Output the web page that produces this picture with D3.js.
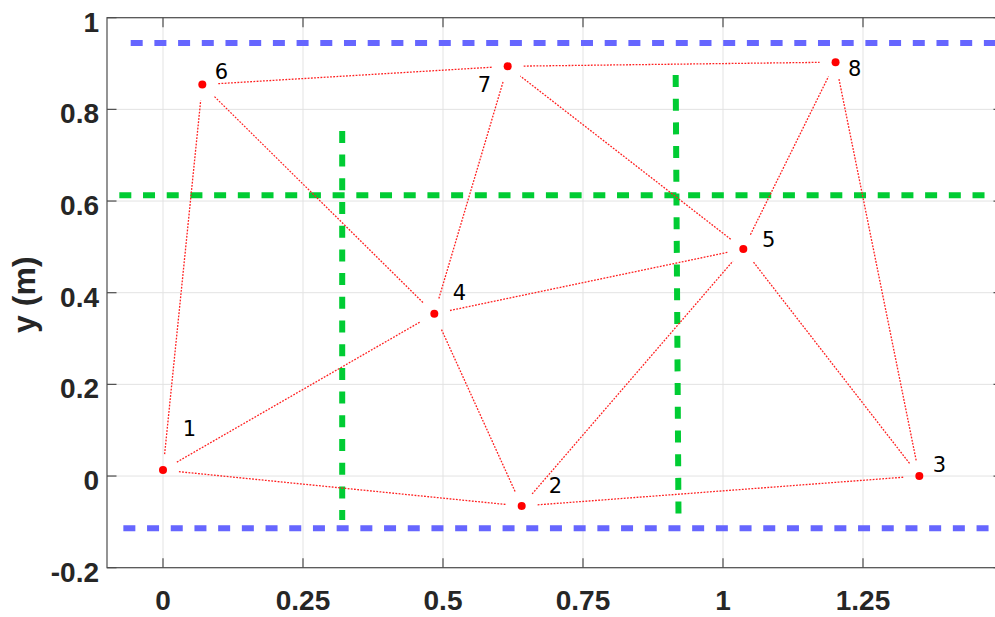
<!DOCTYPE html>
<html>
<head>
<meta charset="utf-8">
<script src="https://cdn.jsdelivr.net/npm/d3@7"></script>
<style>
  html, body { margin: 0; padding: 0; background: #fff; }
  svg { display: block; }
</style>
</head>
<body>
<svg id="chart" width="995" height="617"></svg>
<script>
// ---- data ----
const nodeIds = [1, 2, 3, 4, 5, 6, 7, 8];
const nodeX = [0, 0.6405, 1.3506, 0.4845, 1.0363, 0.0702, 0.6155, 1.201];
const nodeY = [0.013, -0.0655, 0, 0.354, 0.4953, 0.854, 0.894, 0.903];
const labelX = [0.0352, 0.6888, 1.3745, 0.5173, 1.0696, 0.0923, 0.562, 1.2232];
const labelY = [0.0879, -0.0377, 0.0087, 0.384, 0.5003, 0.8656, 0.8385, 0.8729];
const edgeFrom = [1, 1, 1, 2, 2, 2, 3, 3, 4, 4, 4, 5, 5, 6, 7];
const edgeTo   = [2, 4, 6, 4, 5, 3, 5, 8, 5, 6, 7, 7, 8, 7, 8];

const blueY  = [0.9448, -0.114];
const blueX0 = [-0.0577, -0.0708];
const greenHY  = [0.6125];
const greenHX0 = [-0.078];
const greenVX0 = [0.320, 0.9155];
const greenVX1 = [0.320, 0.9205];
const greenVTop = [0.753, 0.875];
const greenVBot = [-0.096, -0.0837];

const xTicks = [0, 0.25, 0.5, 0.75, 1, 1.25];
const xTickLabels = ["0", "0.25", "0.5", "0.75", "1", "1.25"];
const yTicks = [-0.2, 0, 0.2, 0.4, 0.6, 0.8, 1];
const yTickLabels = ["-0.2", "0", "0.2", "0.4", "0.6", "0.8", "1"];
const xDomain = [-0.1, 1.5];
const yDomain = [-0.2, 1];
const yLabel = "y (m)";

// ---- layout ----
const svg = d3.select("#chart");
const x = d3.scaleLinear().domain(xDomain).range([107, 1003]);
const y = d3.scaleLinear().domain(yDomain).range([567.7, 17.7]);
const [L, R] = x.range();
const [B, T] = y.range();

// grid
const grid = svg.append("g").attr("stroke", "#e3e3e3").attr("stroke-width", 1);
grid.selectAll("line.gx").data(xTicks).join("line")
  .attr("x1", d => x(d)).attr("x2", d => x(d)).attr("y1", T).attr("y2", B);
grid.selectAll("line.gy").data(yTicks).join("line")
  .attr("x1", L).attr("x2", R).attr("y1", d => y(d)).attr("y2", d => y(d));

// guide lines
const dash = "12,11.7";
svg.append("g").selectAll("line").data(blueY).join("line")
  .attr("x1", (d, i) => x(blueX0[i])).attr("x2", x(1.6))
  .attr("y1", d => y(d)).attr("y2", d => y(d))
  .attr("stroke", "#6666ff").attr("stroke-width", 6).attr("stroke-dasharray", dash);
svg.append("g").selectAll("line").data(greenHY).join("line")
  .attr("x1", (d, i) => x(greenHX0[i])).attr("x2", x(1.6))
  .attr("y1", d => y(d)).attr("y2", d => y(d))
  .attr("stroke", "#00cc33").attr("stroke-width", 6).attr("stroke-dasharray", dash);
svg.append("g").selectAll("line").data(greenVX0).join("line")
  .attr("x1", (d, i) => x(greenVX0[i])).attr("x2", (d, i) => x(greenVX1[i]))
  .attr("y1", (d, i) => y(greenVTop[i])).attr("y2", (d, i) => y(greenVBot[i]))
  .attr("stroke", "#00cc33").attr("stroke-width", 6).attr("stroke-dasharray", dash);

// edges (shortened at both ends)
const gap = 16;
const edges = edgeFrom.map((a, i) => {
  const b = edgeTo[i];
  const x1 = x(nodeX[a - 1]), y1 = y(nodeY[a - 1]);
  const x2 = x(nodeX[b - 1]), y2 = y(nodeY[b - 1]);
  const len = Math.hypot(x2 - x1, y2 - y1);
  const ux = (x2 - x1) / len, uy = (y2 - y1) / len;
  return { x1: x1 + ux * gap, y1: y1 + uy * gap, x2: x2 - ux * gap, y2: y2 - uy * gap };
});
svg.append("g").selectAll("line").data(edges).join("line")
  .attr("x1", d => d.x1).attr("y1", d => d.y1).attr("x2", d => d.x2).attr("y2", d => d.y2)
  .attr("stroke", "#ff2020").attr("stroke-width", 1.3).attr("stroke-dasharray", "1.8,1.4");

// nodes
svg.append("g").selectAll("circle").data(nodeIds).join("circle")
  .attr("cx", (d, i) => x(nodeX[i])).attr("cy", (d, i) => y(nodeY[i]))
  .attr("r", 4).attr("fill", "#ff0000");

// node labels
svg.append("g").selectAll("text").data(nodeIds).join("text")
  .attr("x", (d, i) => x(labelX[i])).attr("y", (d, i) => y(labelY[i]))
  .attr("font-family", "DejaVu Sans").attr("font-size", 21).attr("fill", "#000")
  .text(d => String(d));

// axes box
const ax = svg.append("g").attr("stroke", "#4d4d4d").attr("stroke-width", 1.2).attr("fill", "none");
ax.append("rect").attr("x", L).attr("y", T).attr("width", R - L).attr("height", B - T);
const tl = 9.5;
xTicks.forEach(t => {
  ax.append("line").attr("x1", x(t)).attr("x2", x(t)).attr("y1", B).attr("y2", B - tl);
  ax.append("line").attr("x1", x(t)).attr("x2", x(t)).attr("y1", T).attr("y2", T + tl);
});
yTicks.forEach(t => {
  ax.append("line").attr("x1", L).attr("x2", L + tl).attr("y1", y(t)).attr("y2", y(t));
  ax.append("line").attr("x1", R).attr("x2", R - tl).attr("y1", y(t)).attr("y2", y(t));
});

// tick labels
const tickFont = "'Liberation Sans', Arial, sans-serif";
svg.append("g").selectAll("text").data(xTicks).join("text")
  .attr("x", d => x(d)).attr("y", B + 42.3)
  .attr("text-anchor", "middle")
  .attr("font-family", tickFont).attr("font-weight", "bold").attr("font-size", 28)
  .attr("fill", "#262626")
  .text((d, i) => xTickLabels[i]);
svg.append("g").selectAll("text").data(yTicks).join("text")
  .attr("x", L - 8).attr("y", d => y(d) + 14)
  .attr("text-anchor", "end")
  .attr("font-family", tickFont).attr("font-weight", "bold").attr("font-size", 28)
  .attr("fill", "#262626")
  .text((d, i) => yTickLabels[i]);

// y axis label
svg.append("text")
  .attr("transform", `translate(35, ${(T + B) / 2 + 2}) rotate(-90)`)
  .attr("text-anchor", "middle")
  .attr("font-family", tickFont).attr("font-weight", "bold").attr("font-size", 32)
  .attr("fill", "#262626")
  .text(yLabel);
</script>
</body>
</html>
